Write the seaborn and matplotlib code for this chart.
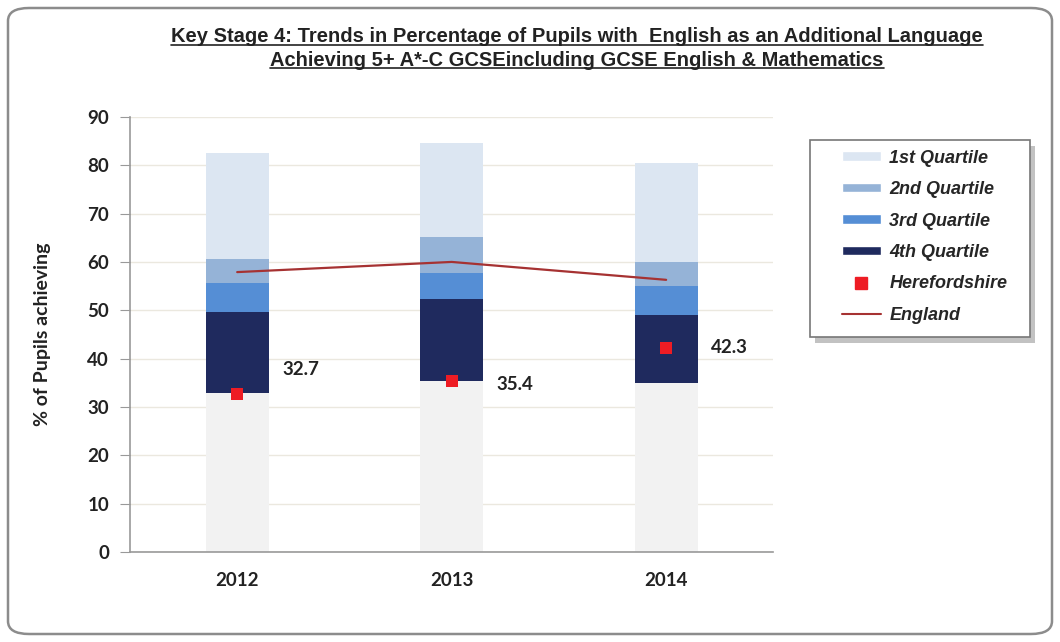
import numpy as np
import pandas as pd
import matplotlib
matplotlib.use('Agg')
import matplotlib.pyplot as plt
import seaborn as sns
from matplotlib.patches import Patch, Rectangle, FancyBboxPatch
from matplotlib.lines import Line2D

# ---------------- data ----------------
years = ['2012', '2013', '2014']
q_min = [32.9, 35.4, 35.0]        # bottom of 4th quartile band
q_lower = [49.7, 52.3, 49.0]      # 4th / 3rd boundary
q_median = [55.6, 57.7, 55.0]     # 3rd / 2nd boundary
q_upper = [60.6, 65.2, 60.0]      # 2nd / 1st boundary
q_max = [82.5, 84.6, 80.5]        # top of 1st quartile band
england = [57.9, 60.0, 56.3]
herefordshire = [32.7, 35.4, 42.3]
legend_labels = ['1st Quartile', '2nd Quartile', '3rd Quartile', '4th Quartile',
                 'Herefordshire', 'England']

# ---------------- style ----------------
sns.set_style('white')
plt.rcParams['font.family'] = ['Lato', 'DejaVu Sans']

c_q1 = '#dce6f2'
c_q2 = '#95b3d7'
c_q3 = '#558ed5'
c_q4 = '#1f2a5e'
c_base = '#f2f2f2'
c_here = '#ee1c24'
c_eng = '#a63232'

W, H = 1060, 642
fig = plt.figure(figsize=(10.6, 6.42), dpi=100)
ax = fig.add_axes([0.1226, 0.140, 0.607, 0.678])

df = pd.DataFrame({'year': years, 'q_min': q_min, 'q_lower': q_lower,
                   'q_median': q_median, 'q_upper': q_upper, 'q_max': q_max})

# stacked look: draw cumulative bars from tallest to shortest
for col, colour in [('q_max', c_q1), ('q_upper', c_q2), ('q_median', c_q3),
                    ('q_lower', c_q4), ('q_min', c_base)]:
    sns.barplot(data=df, x='year', y=col, color=colour, width=0.295,
                saturation=1, errorbar=None, linewidth=0, ax=ax, zorder=2)

pos = np.arange(len(years))
sns.lineplot(x=pos, y=england, color=c_eng, lw=1.6, ax=ax, zorder=3)
sns.scatterplot(x=pos, y=herefordshire, marker='s', s=75, color=c_here,
                edgecolor='none', ax=ax, zorder=4)

# value labels next to the Herefordshire markers
label_dy = [5.0, -0.8, 0.0]
for i, v in enumerate(herefordshire):
    ax.text(pos[i] + 0.21, v + label_dy[i], f'{v:.1f}', ha='left', va='center',
            fontsize=13.5, fontweight='bold', color='#222222')

# axes
ax.set_xlim(-0.5, 2.5)
ax.set_ylim(0, 90)
ax.set_yticks(range(0, 91, 10))
ax.set_xticks(pos)
ax.set_xticklabels(years)
ax.set_xticks([-0.5, 0.5, 1.5, 2.5], minor=True)
ax.tick_params(axis='x', which='major', length=0, pad=14, labelsize=13.5, bottom=False)
ax.tick_params(axis='x', which='minor', length=7, color='#999999', direction='out')
ax.tick_params(axis='y', length=7, color='#999999', direction='out', pad=8,
               labelsize=13.5, left=True)
for lab in ax.get_xticklabels() + ax.get_yticklabels():
    lab.set_fontweight('bold')
    lab.set_color('#222222')
ax.yaxis.grid(True, color='#ebe8df', lw=1)
ax.set_axisbelow(True)
for s in ['top', 'right']:
    ax.spines[s].set_visible(False)
for s in ['left', 'bottom']:
    ax.spines[s].set_color('#999999')
    ax.spines[s].set_linewidth(1.2)
ax.set_xlabel('')
ax.set_ylabel('% of Pupils achieving', fontsize=14, fontweight='bold',
              color='#222222', labelpad=26)

# legend box (frame drawn by hand so the inner padding matches)
shadow = Rectangle((815 / W, 1 - 343 / H), 220 / W, 197 / H, transform=fig.transFigure,
                   facecolor='#9a9a9a', edgecolor='none', alpha=0.6, zorder=1)
frame = Rectangle((810 / W, 1 - 337 / H), 220 / W, 197 / H, transform=fig.transFigure,
                  facecolor='white', edgecolor='#777777', lw=1.2, zorder=2)
fig.add_artist(shadow)
fig.add_artist(frame)

handles = [Patch(facecolor=c_q1), Patch(facecolor=c_q2), Patch(facecolor=c_q3),
           Patch(facecolor=c_q4),
           Line2D([], [], marker='s', ls='none', color=c_here, markersize=8),
           Line2D([], [], color=c_eng, lw=1.5)]
leg = fig.legend(handles, legend_labels, loc='upper left',
                 bbox_to_anchor=(838 / W, 1 - 146 / H),
                 frameon=False,
                 prop={'family': ['Liberation Sans', 'DejaVu Sans'],
                       'style': 'italic', 'weight': 'bold', 'size': 13},
                 handlelength=2.2, handleheight=0.45, labelspacing=0.8,
                 borderpad=0.2, borderaxespad=0, handletextpad=0.45)
leg.set_zorder(3)

# title with underline
title_lines = ['Key Stage 4: Trends in Percentage of Pupils with  English as an Additional Language',
               'Achieving 5+ A*-C GCSEincluding GCSE English & Mathematics']
title_y = [1 - 37 / H, 1 - 60 / H]
fig.canvas.draw()
renderer = fig.canvas.get_renderer()
for txt, ty in zip(title_lines, title_y):
    t = fig.text(577 / W, ty, txt, ha='center', va='center', fontsize=14.5,
                 fontweight='bold', color='#222222',
                 family=['Liberation Sans', 'DejaVu Sans'])
    bb = t.get_window_extent(renderer=renderer).transformed(fig.transFigure.inverted())
    fig.add_artist(Line2D([bb.x0, bb.x1], [bb.y0 + 0.002, bb.y0 + 0.002],
                          color='#222222', lw=1.2, transform=fig.transFigure))

# rounded border round the whole chart
border = FancyBboxPatch((8 / W, 8 / H), 1044 / W, 626 / H,
                        boxstyle='round,pad=0,rounding_size=0.02',
                        transform=fig.transFigure, fill=False,
                        edgecolor='#8c8c8c', lw=1.8)
fig.add_artist(border)

fig.savefig('out.png', dpi=100)
